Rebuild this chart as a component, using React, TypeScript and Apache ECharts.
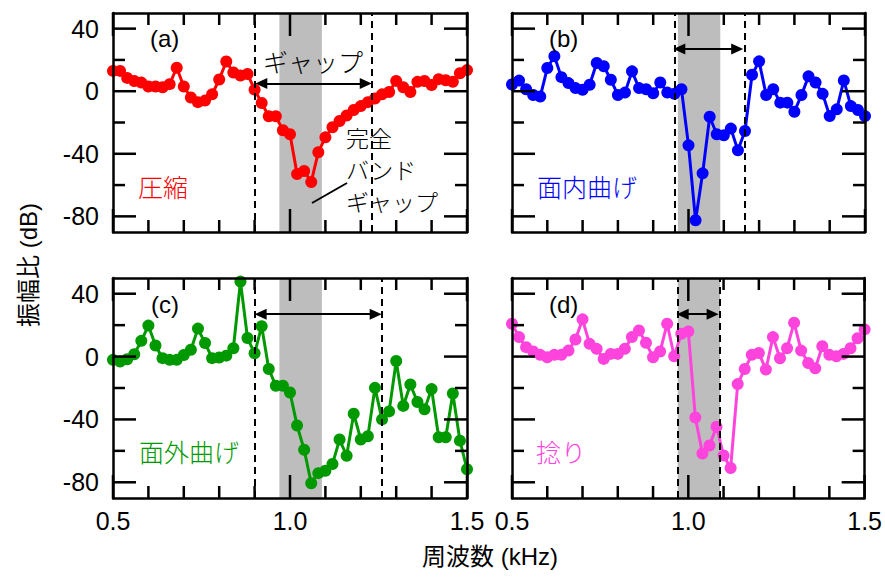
import { useEffect, useRef } from "react";
import * as echarts from "echarts";

// Frequency grid (kHz)
const FREQ_KHZ = [
  0.5, 0.52, 0.54, 0.56, 0.58, 0.6, 0.62, 0.64, 0.66, 0.68,
  0.7, 0.72, 0.74, 0.76, 0.78, 0.8, 0.82, 0.84, 0.86, 0.88,
  0.9, 0.92, 0.94, 0.96, 0.98, 1.0, 1.02, 1.04, 1.06, 1.08,
  1.1, 1.12, 1.14, 1.16, 1.18, 1.2, 1.22, 1.24, 1.26, 1.28,
  1.3, 1.32, 1.34, 1.36, 1.38, 1.4, 1.42, 1.44, 1.46, 1.48, 1.5,
];

// Amplitude ratio (dB) for each excitation mode
const COMPRESSION = [
  13, 13, 8.5, 6.5, 5.5, 3, 3, 2.5, 4.5, 15,
  3, -4, -7, -6, -2, 7.5, 19, 12, 10, 11,
  1, -7.5, -16, -16, -25, -27.5, -53, -51, -58, -39,
  -29.5, -23, -19, -15.5, -12, -9.5, -7, -4.7, -2, -0.5,
  6.6, 2.5, -0.5, 6, 6.5, 4, 7.7, 7, 6, 11.5, 13.5,
];
const IN_PLANE_BENDING = [
  4.3, 6.8, 1.3, -2.4, -3.4, 14.8, 22.4, 9, 5.2, 2,
  0.9, 4.1, 18, 16, 7.3, -2.4, -0.9, 12.7, 2, 1.3,
  -1.3, 5.6, -0.9, -1.7, 1.3, -34.6, -82.5, -52.5, -16.3, -27.5,
  -28.2, -23.9, -37.8, -25.4, 10.5, 19.1, -2.4, 1.3, -7.3, -7.3,
  -13.1, -2.4, 9.5, 5.6, -1.7, -15.9, -11.6, 6.9, -9.5, -12, -15.9,
];
const OUT_OF_PLANE_BENDING = [
  -2.1, -3.2, -1.7, 1.5, 10, 19.7, 7, -1, -2.1, -2.1,
  1, 4.3, 17.8, 8.6, -1, -0.6, 0.6, 5.3, 47.7, 11.8,
  2.1, 19.3, -7.9, -18.6, -18.6, -22.9, -43.9, -59.3, -80.6, -74.2,
  -72.7, -68.4, -52.8, -63.1, -36.4, -52.8, -50.7, -19.9, -40, -34.9,
  -2.8, -31.4, -17.8, -28.9, -33.6, -20.7, -51.3, -51.3, -23.5, -53.5, -71.7,
];
const TORSION = [
  20.9, 12.4, 6, 3.2, 1.1, -0.4, 1.1, 1.1, 3.8, 10.9,
  23.7, 8.1, 4.9, -1.5, 1.7, 1.7, 4.9, 12.4, 16.6, 8.8,
  -0.4, 3.2, 20.9, 0.2, 14.5, 16, -38.8, -61.7, -56.6, -44.6,
  -63, -70.9, -17.5, -7.9, 1.1, 2.3, -8.3, 12.4, -1.1, 5.3,
  21.6, 3.8, -4.1, -7.5, 6.6, 1.1, 0.2, 1.7, 5.3, 11.7, 17.3,
];

// Complete band gap (kHz), shared by all modes
const COMPLETE_GAP = [0.97, 1.09];
// Mode-specific gap edges (kHz)
const GAP_COMPRESSION = [0.902, 1.231];
const GAP_IN_PLANE = [0.957, 1.155];
const GAP_OUT_OF_PLANE = [0.9, 1.259];
const GAP_TORSION = [0.967, 1.086];

const PANEL_TAGS = ["(a)", "(b)", "(c)", "(d)"];
const MODE_NAMES = ["圧縮", "面内曲げ", "面外曲げ", "捻り"];
const MODE_COLORS = ["#ff0000", "#0000ff", "#009900", "#ff44dd"];

// Tick positions
const X_TICKS = [0.5, 0.6, 0.7, 0.8, 0.9, 1.0, 1.1, 1.2, 1.3, 1.4, 1.5];
const X_MAJOR = [0.5, 1.0, 1.5];
const Y_TICKS = [-80, -60, -40, -20, 0, 20, 40];
const Y_MAJOR = [-80, -40, 0, 40];

const LATIN = "'Liberation Sans', Arial, 'Noto Sans CJK JP', sans-serif";
const CJK = "'Noto Sans CJK JP', 'Liberation Sans', sans-serif";

const isIn = (list: number[], v: number) => list.some((m) => Math.abs(m - v) < 1e-6);

export default function App() {
  const ref = useRef<HTMLDivElement>(null);

  useEffect(() => {
    if (!ref.current) return;
    const chart = echarts.init(ref.current, null, { renderer: "svg" });

    const modes = [COMPRESSION, IN_PLANE_BENDING, OUT_OF_PLANE_BENDING, TORSION];
    const gaps = [GAP_COMPRESSION, GAP_IN_PLANE, GAP_OUT_OF_PLANE, GAP_TORSION];
    const arrowLevels = [5, 27, 27, 27];
    // arrow heads are centred on their end points; pull them in so the tips meet the dashed lines
    const headInset = 0.017;

    const lefts = [113, 512];
    const widths = [354, 353];
    const tops = [13, 278];
    const heights = [219, 220];

    const grids: any[] = [];
    const xAxes: any[] = [];
    const yAxes: any[] = [];
    const series: any[] = [];

    const frameStyle = { color: "#000", width: 2.5 };

    for (let p = 0; p < 4; p++) {
      const col = p % 2;
      const row = Math.floor(p / 2);
      grids.push({
        left: lefts[col],
        top: tops[row],
        width: widths[col],
        height: heights[row],
      });

      const xBase = {
        type: "value",
        gridIndex: p,
        min: 0.5,
        max: 1.5,
        interval: 0.5,
        splitLine: { show: false },
        axisTick: { show: false },
        z: 5,
      };
      xAxes.push({
        ...xBase,
        position: "bottom",
        axisLine: { show: true, onZero: false, lineStyle: frameStyle },
        axisLabel: {
          show: row === 1,
          fontSize: 25,
          fontFamily: LATIN,
          color: "#000",
          margin: 10,
          formatter: (v: number) => v.toFixed(1),
        },
      });
      xAxes.push({
        ...xBase,
        position: "top",
        axisLine: { show: true, onZero: false, lineStyle: frameStyle },
        axisLabel: { show: false },
      });

      const yBase = {
        type: "value",
        gridIndex: p,
        min: -90,
        max: 50,
        interval: 10,
        splitLine: { show: false },
        axisTick: { show: false },
        z: 5,
      };
      yAxes.push({
        ...yBase,
        position: "left",
        axisLine: { show: true, onZero: false, lineStyle: frameStyle },
        axisLabel: {
          show: col === 0,
          customValues: Y_MAJOR,
          fontSize: 25,
          fontFamily: LATIN,
          color: "#000",
          margin: 14,
        },
      });
      yAxes.push({
        ...yBase,
        position: "right",
        axisLine: { show: true, onZero: false, lineStyle: frameStyle },
        axisLabel: { show: false },
      });

      const xi = p * 2;
      const yi = p * 2;
      const gap = gaps[p];

      // complete band gap shading
      series.push({
        type: "line",
        xAxisIndex: xi,
        yAxisIndex: yi,
        data: [],
        z: 1,
        silent: true,
        markArea: {
          silent: true,
          itemStyle: { color: "#bdbdbd" },
          data: [[{ xAxis: COMPLETE_GAP[0] }, { xAxis: COMPLETE_GAP[1] }]],
        },
      });

      // gap edges and the arrow spanning them
      const dashed = { color: "#000", width: 2, type: [7, 5] };
      series.push({
        type: "line",
        xAxisIndex: xi,
        yAxisIndex: yi,
        data: [],
        z: 1.5,
        silent: true,
        markLine: {
          silent: true,
          animation: false,
          label: { show: false },
          symbol: "none",
          data: [
            { xAxis: gap[0], symbol: "none", lineStyle: dashed },
            { xAxis: gap[1], symbol: "none", lineStyle: dashed },
            [
              {
                coord: [gap[0] + headInset, arrowLevels[p]],
                symbol: "triangle",
                symbolSize: [11, 12],
                lineStyle: { color: "#000", width: 2, type: "solid" },
              },
              {
                coord: [gap[1] - headInset, arrowLevels[p]],
                symbol: "triangle",
                symbolSize: [11, 12],
              },
            ],
          ],
        },
      });

      // measured spectrum
      series.push({
        type: "line",
        name: MODE_NAMES[p],
        xAxisIndex: xi,
        yAxisIndex: yi,
        z: 2,
        symbol: "circle",
        symbolSize: 12,
        color: MODE_COLORS[p],
        lineStyle: { width: 3, color: MODE_COLORS[p] },
        itemStyle: { color: MODE_COLORS[p] },
        data: FREQ_KHZ.map((f, i) => [f, modes[p][i]]),
      });

      // inward ticks on all four sides of the frame
      series.push({
        type: "custom",
        coordinateSystem: "cartesian2d",
        xAxisIndex: xi,
        yAxisIndex: yi,
        z: 6,
        silent: true,
        clip: false,
        encode: { x: 2, y: 3 },
        data: [
          ...X_TICKS.map((v) => [0, v, 1, 0]),
          ...Y_TICKS.map((v) => [1, v, 1, 0]),
        ],
        renderItem: (params: any, api: any) => {
          const kind = api.value(0);
          const v = api.value(1);
          const cs = params.coordSys;
          const bottom = cs.y + cs.height;
          const right = cs.x + cs.width;
          if (kind === 0) {
            const len = isIn(X_MAJOR, v) ? 23 : 12;
            const px = api.coord([v, 0])[0];
            return {
              type: "group",
              children: [
                { type: "line", shape: { x1: px, y1: bottom, x2: px, y2: bottom - len }, style: { stroke: "#000000", lineWidth: 2.5 } },
                { type: "line", shape: { x1: px, y1: cs.y, x2: px, y2: cs.y + len }, style: { stroke: "#000000", lineWidth: 2.5 } },
              ],
            };
          }
          const len = isIn(Y_MAJOR, v) ? 23 : 12;
          const py = api.coord([1, v])[1];
          return {
            type: "group",
            children: [
              { type: "line", shape: { x1: cs.x, y1: py, x2: cs.x + len, y2: py }, style: { stroke: "#000000", lineWidth: 2.5 } },
              { type: "line", shape: { x1: right, y1: py, x2: right - len, y2: py }, style: { stroke: "#000000", lineWidth: 2.5 } },
            ],
          };
        },
      });
    }

    const txt = (
      text: string,
      x: number,
      y: number,
      size: number,
      fill: string,
      family: string,
      align: string = "left",
      extra: any = {}
    ) => ({
      type: "text",
      x,
      y,
      z: 10,
      silent: true,
      ...extra,
      style: {
        text,
        fontSize: size,
        fontFamily: family,
        fontWeight: family === CJK ? 300 : "normal",
        lineHeight: size,
        fill,
        textAlign: align,
        textVerticalAlign: "middle",
      },
    });

    const graphics: any[] = [
      txt(PANEL_TAGS[0], 150, 38, 24, "#000", LATIN),
      txt(PANEL_TAGS[1], 549, 38, 24, "#000", LATIN),
      txt(PANEL_TAGS[2], 151, 304, 24, "#000", LATIN),
      txt(PANEL_TAGS[3], 549, 304, 24, "#000", LATIN),
      txt(MODE_NAMES[0], 138, 186, 25, MODE_COLORS[0], CJK),
      txt(MODE_NAMES[1], 537, 186, 25, MODE_COLORS[1], CJK),
      txt(MODE_NAMES[2], 139, 451, 25, MODE_COLORS[2], CJK),
      txt(MODE_NAMES[3], 536, 451, 25, MODE_COLORS[3], CJK),
      txt("ギャップ", 313, 61, 25, "#000", CJK, "center"),
      txt("完全", 346, 137, 23, "#000", CJK),
      txt("バンド", 346, 169, 23, "#000", CJK),
      txt("ギャップ", 346, 201, 23, "#000", CJK),
      {
        type: "line",
        z: 10,
        silent: true,
        shape: { x1: 312, y1: 203, x2: 347, y2: 183 },
        style: { stroke: "#000", lineWidth: 2 },
      },
      txt("振幅比 (dB)", 28, 265, 24, "#000", LATIN, "center", {
        rotation: Math.PI / 2,
      }),
      txt("周波数 (kHz)", 490, 556, 24, "#000", LATIN, "center"),
    ];

    chart.setOption({
      animation: false,
      backgroundColor: "#fff",
      grid: grids,
      xAxis: xAxes,
      yAxis: yAxes,
      series,
      graphic: graphics,
    });

    return () => chart.dispose();
  }, []);

  return (
    <div
      ref={ref}
      style={{ position: "absolute", left: 0, top: 0, width: 885, height: 581 }}
    />
  );
}
